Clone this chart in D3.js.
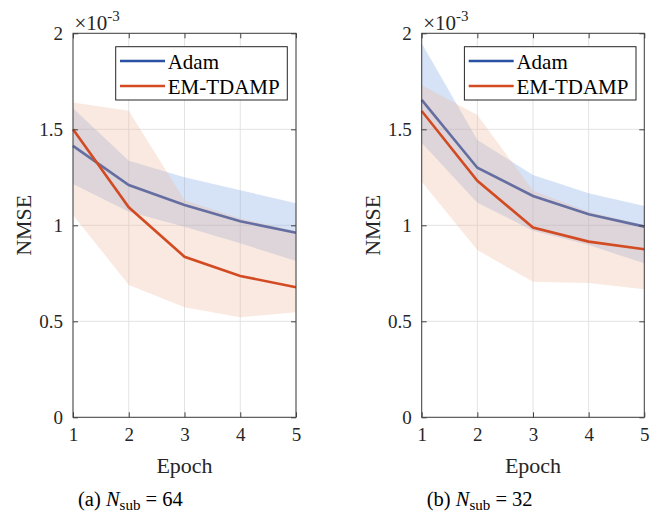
<!DOCTYPE html>
<html><head><meta charset="utf-8">
<script src="https://cdn.jsdelivr.net/npm/d3@7"></script>
<style>
html,body{margin:0;padding:0;background:#fff;}
svg{display:block;font-family:"Liberation Serif","Times New Roman",serif;}
</style></head>
<body><svg id="chart" width="660" height="517"></svg>
<script>
// ---- data (NMSE in units of 1e-3) ----
const epochs = [1, 2, 3, 4, 5];
const yTicks = [0, 0.5, 1, 1.5, 2];
const xTicks = [1, 2, 3, 4, 5];
const scaleExp = "-3";
const seriesNames = ["Adam", "EM-TDAMP"];

const adam64      = [1.414, 1.21, 1.106, 1.021, 0.961];
const adam64Upper = [1.61, 1.336, 1.25, 1.183, 1.115];
const adam64Lower = [1.215, 1.071, 0.993, 0.906, 0.814];
const em64        = [1.50, 1.094, 0.836, 0.736, 0.677];
const em64Upper   = [1.639, 1.597, 1.13, 1.035, 0.97];
const em64Lower   = [1.054, 0.689, 0.573, 0.521, 0.547];

const adam32      = [1.653, 1.30, 1.153, 1.057, 0.993];
const adam32Upper = [1.948, 1.444, 1.262, 1.167, 1.10];
const adam32Lower = [1.43, 1.118, 0.972, 0.897, 0.802];
const em32        = [1.595, 1.232, 0.988, 0.915, 0.875];
const em32Upper   = [1.73, 1.574, 1.18, 1.07, 1.0];
const em32Lower   = [1.227, 0.871, 0.706, 0.70, 0.667];

const panels = [
  {label:"(a) ", nsub:"64", left:73, right:296,
   adam:adam64, adamU:adam64Upper, adamL:adam64Lower, em:em64, emU:em64Upper, emL:em64Lower},
  {label:"(b) ", nsub:"32", left:421.7, right:644.3,
   adam:adam32, adamU:adam32Upper, adamL:adam32Lower, em:em32, emU:em32Upper, emL:em32Lower}
];

const blueLine = "#2a50a5", redLine = "#d24b23";
const blueFill = "rgb(118,158,225)", redFill = "rgb(238,182,152)";
const plotTop = 33.3, plotBottom = 417.3;

const svg = d3.select("#chart");

panels.forEach(p => {
  const x = d3.scaleLinear().domain([1, 5]).range([p.left, p.right]);
  const y = d3.scaleLinear().domain([0, 2]).range([plotBottom, plotTop]);
  const g = svg.append("g");

  // grid
  g.append("g").selectAll("line").data(xTicks).join("line")
    .attr("x1", d => x(d)).attr("x2", d => x(d)).attr("y1", plotTop).attr("y2", plotBottom)
    .attr("stroke", "#e3e3e3").attr("stroke-width", 1);
  g.append("g").selectAll("line").data(yTicks).join("line")
    .attr("y1", d => y(d)).attr("y2", d => y(d)).attr("x1", p.left).attr("x2", p.right)
    .attr("stroke", "#e3e3e3").attr("stroke-width", 1);

  const line = arr => d3.line().x((d, i) => x(epochs[i])).y(d => y(d))(arr);
  const area = (lo, hi) => d3.area().x((d, i) => x(epochs[i]))
      .y0((d, i) => y(lo[i])).y1((d, i) => y(hi[i]))(epochs);

  g.append("path").attr("d", area(p.adamL, p.adamU))
    .attr("fill", blueFill).attr("fill-opacity", 0.3);
  g.append("path").attr("d", line(p.adam)).attr("fill", "none")
    .attr("stroke", blueLine).attr("stroke-width", 2.6);
  g.append("path").attr("d", area(p.emL, p.emU))
    .attr("fill", redFill).attr("fill-opacity", 0.3);
  g.append("path").attr("d", line(p.em)).attr("fill", "none")
    .attr("stroke", redLine).attr("stroke-width", 2.6);

  // box
  g.append("rect").attr("x", p.left).attr("y", plotTop)
    .attr("width", p.right - p.left).attr("height", plotBottom - plotTop)
    .attr("fill", "none").attr("stroke", "#404040").attr("stroke-width", 1);

  // axes (ticks inward)
  const axL = d3.axisLeft(y).tickValues(yTicks).tickSizeInner(-5).tickSizeOuter(0)
    .tickPadding(10).tickFormat(d3.format("~g"));
  const axR = d3.axisRight(y).tickValues(yTicks).tickSizeInner(-5).tickSizeOuter(0).tickFormat("");
  const axB = d3.axisBottom(x).tickValues(xTicks).tickSizeInner(-5).tickSizeOuter(0)
    .tickPadding(10).tickFormat(d3.format("d"));
  const axT = d3.axisTop(x).tickValues(xTicks).tickSizeInner(-5).tickSizeOuter(0).tickFormat("");
  [[axL, `translate(${p.left},0)`], [axR, `translate(${p.right},0)`],
   [axB, `translate(0,${plotBottom})`], [axT, `translate(0,${plotTop})`]].forEach(([ax, tr]) => {
    const a = g.append("g").attr("transform", tr).call(ax);
    a.select(".domain").remove();
    a.selectAll("line").attr("stroke", "#404040");
    a.selectAll("text").attr("fill", "#262626").style("font-size", "19px")
      .style("font-family", '"Liberation Serif",serif');
  });

  // exponent label
  const ex = g.append("text").attr("x", p.left + 1.5).attr("y", 29.5)
    .attr("fill", "#262626").style("font-size", "21px");
  ex.append("tspan").text("\u00d710");
  ex.append("tspan").attr("dy", -9).style("font-size", "15px").text(scaleExp);

  // axis labels
  g.append("text").attr("x", (p.left + p.right) / 2).attr("y", 473)
    .attr("text-anchor", "middle").attr("fill", "#262626").style("font-size", "22px").text("Epoch");
  g.append("text").attr("transform", `translate(${p.left - 42},${(plotTop + plotBottom) / 2}) rotate(-90)`)
    .attr("text-anchor", "middle").attr("fill", "#262626").style("font-size", "22px").text("NMSE");

  // legend
  const lx = p.left + 42.7, ly = 46.7, lw = 171.6, lh = 53.3;
  g.append("rect").attr("x", lx).attr("y", ly).attr("width", lw).attr("height", lh)
    .attr("fill", "#fff").attr("stroke", "#262626").attr("stroke-width", 1);
  [[seriesNames[0], blueLine, 61], [seriesNames[1], redLine, 86]].forEach(([name, col, yy]) => {
    g.append("line").attr("x1", lx + 4.3).attr("x2", lx + 49.3).attr("y1", yy).attr("y2", yy)
      .attr("stroke", col).attr("stroke-width", 2.6);
    g.append("text").attr("x", lx + 52).attr("y", yy + 7.5).attr("fill", "#000")
      .style("font-size", "21px").text(name);
  });

  // caption
  const cap = g.append("text").attr("x", p.left + 5).attr("y", 506)
    .attr("fill", "#000").style("font-size", "20.5px");
  cap.append("tspan").text(p.label);
  cap.append("tspan").style("font-style", "italic").text("N");
  cap.append("tspan").attr("dy", 4).style("font-size", "15px").text("sub");
  cap.append("tspan").attr("dy", -4).text(" = " + p.nsub);
});
</script></body></html>
